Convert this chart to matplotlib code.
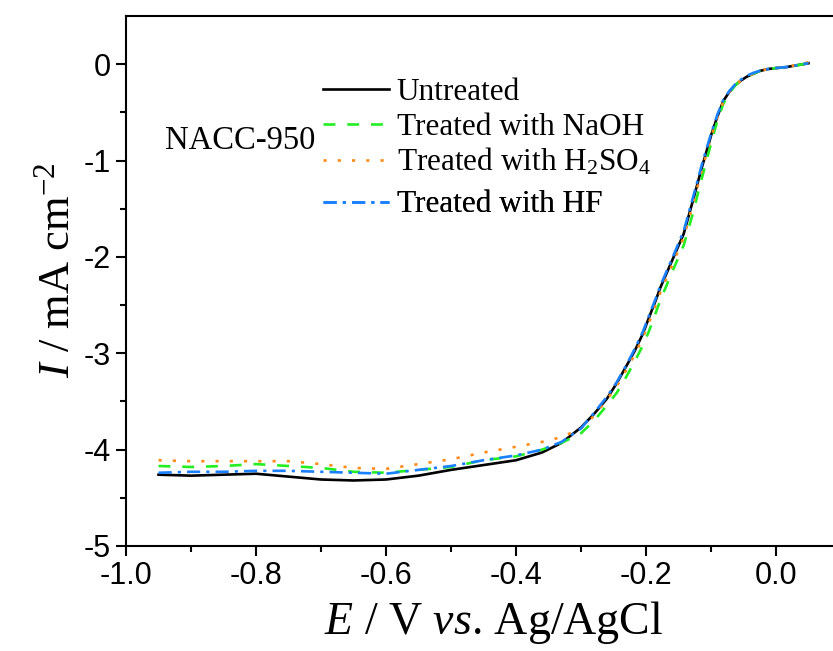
import numpy as np
import matplotlib
matplotlib.use("Agg")
import matplotlib.pyplot as plt

plt.rcParams['font.family'] = ['Liberation Serif', 'DejaVu Serif']
plt.rcParams['mathtext.fontset'] = 'custom'
plt.rcParams['mathtext.rm'] = 'Liberation Serif'
plt.rcParams['mathtext.it'] = 'Liberation Serif:italic'

# potential (V vs Ag/AgCl)
E = [-0.95, -0.90, -0.85, -0.80, -0.75, -0.70, -0.65, -0.60, -0.55, -0.50,
     -0.45, -0.40, -0.36, -0.33, -0.30, -0.28, -0.26, -0.245, -0.23, -0.217,
     -0.205, -0.196, -0.185, -0.178, -0.16, -0.142, -0.128, -0.114, -0.099, -0.09,
     -0.081, -0.072, -0.063, -0.054, -0.045, -0.035, -0.025, -0.012, 0.0, 0.016, 0.05]

# current density (mA cm-2)
untreated = [-4.26, -4.27, -4.26, -4.25, -4.28, -4.31, -4.32, -4.31, -4.27, -4.21,
             -4.16, -4.11, -4.03, -3.93, -3.77, -3.63, -3.47, -3.31, -3.13, -2.97,
             -2.80, -2.64, -2.45, -2.32, -2.04, -1.76, -1.42, -1.07, -0.72, -0.54,
             -0.38, -0.29, -0.22, -0.17, -0.13, -0.10, -0.07, -0.05, -0.04, -0.03, 0.01]
naoh = [-4.17, -4.18, -4.17, -4.15, -4.17, -4.19, -4.23, -4.24, -4.21, -4.18,
        -4.11, -4.07, -4.00, -3.93, -3.83, -3.70, -3.54, -3.41, -3.24, -3.08,
        -2.92, -2.78, -2.58, -2.45, -2.16, -1.88, -1.55, -1.18, -0.80, -0.58,
        -0.41, -0.30, -0.22, -0.17, -0.13, -0.10, -0.07, -0.05, -0.04, -0.03, 0.01]
h2so4 = [-4.11, -4.12, -4.12, -4.12, -4.12, -4.15, -4.19, -4.20, -4.15, -4.10,
         -4.03, -3.97, -3.92, -3.87, -3.78, -3.65, -3.48, -3.34, -3.17, -3.01,
         -2.84, -2.69, -2.50, -2.37, -2.09, -1.80, -1.46, -1.10, -0.74, -0.55,
         -0.39, -0.29, -0.22, -0.17, -0.13, -0.10, -0.07, -0.05, -0.04, -0.03, 0.02]
hf = [-4.24, -4.23, -4.23, -4.22, -4.22, -4.23, -4.24, -4.25, -4.21, -4.17,
      -4.11, -4.06, -4.00, -3.92, -3.78, -3.62, -3.45, -3.30, -3.12, -2.95,
      -2.78, -2.62, -2.43, -2.30, -2.02, -1.73, -1.39, -1.04, -0.70, -0.52,
      -0.37, -0.28, -0.21, -0.16, -0.12, -0.09, -0.07, -0.05, -0.04, -0.03, 0.01]

fig = plt.figure(figsize=(8.33, 6.51), dpi=100)
ax = fig.add_axes([0.1513, 0.1613, 0.8487, 0.8141])

ax.plot(E, untreated, color='black', lw=1.9, label='Untreated')
ax.plot(E, naoh, color='#22ee22', lw=1.9, dashes=(4.5, 4.5), label='Treated with NaOH')
ax.plot(E, h2so4, color='#ff8c1a', lw=1.9, dashes=(1.2, 4.2), label='Treated with H$_2$SO$_4$')
ax.plot(E, hf, color='#1a80ff', lw=1.9, dashes=(5, 2.3, 1.2, 2.3), label='Treated with HF')

ax.set_xlim(-1.0, 0.0877)
ax.set_ylim(-5, 0.5)
ax.set_xticks([-1.0, -0.8, -0.6, -0.4, -0.2, 0.0])
ax.set_xticklabels(['-1.0', '-0.8', '-0.6', '-0.4', '-0.2', '0.0'])
ax.set_xticks(np.arange(-0.9, 0.05, 0.2), minor=True)
ax.set_yticks([-5, -4, -3, -2, -1, 0])
ax.set_yticklabels(['-5', '-4', '-3', '-2', '-1', '0'])
ax.set_yticks([-4.5, -3.5, -2.5, -1.5, -0.5], minor=True)

for lab in ax.get_xticklabels() + ax.get_yticklabels():
    lab.set_fontfamily('Liberation Sans')
    lab.set_fontsize(22)

ax.spines['right'].set_visible(False)
for s in ['left', 'bottom', 'top']:
    ax.spines[s].set_linewidth(1.5)
ax.tick_params(which='major', direction='out', length=7, width=1.5, top=False, right=False, pad=4)
ax.tick_params(which='minor', direction='out', length=4.5, width=1.5, top=False, right=False)

ax.set_xlabel(r'$\it{E}$ / V $\it{vs}$. Ag/AgCl', fontsize=33)
ax.set_ylabel(r'$\it{I}$ / mA cm$^{-2}$', fontsize=32)
ax.xaxis.set_label_coords(0.5205, -0.1)
ax.yaxis.set_label_coords(-0.068, 0.521)

ax.text(-0.94, -0.79, 'NACC-950', fontsize=23.5, va='center', ha='left')

# one legend per row so the row gaps can follow the picture
handles, labels = ax.get_legend_handles_labels()
row_y = [0.856, 0.789, 0.7246, 0.6435]
for h, l, y in zip(handles, labels, row_y):
    leg = ax.legend([h], [l], loc='center left', bbox_to_anchor=(0.2786, y), frameon=False,
                    fontsize=22.5, handlelength=2.1, handletextpad=0.26,
                    borderpad=0, borderaxespad=0)
    ax.add_artist(leg)

fig.savefig('out.png', dpi=100)
